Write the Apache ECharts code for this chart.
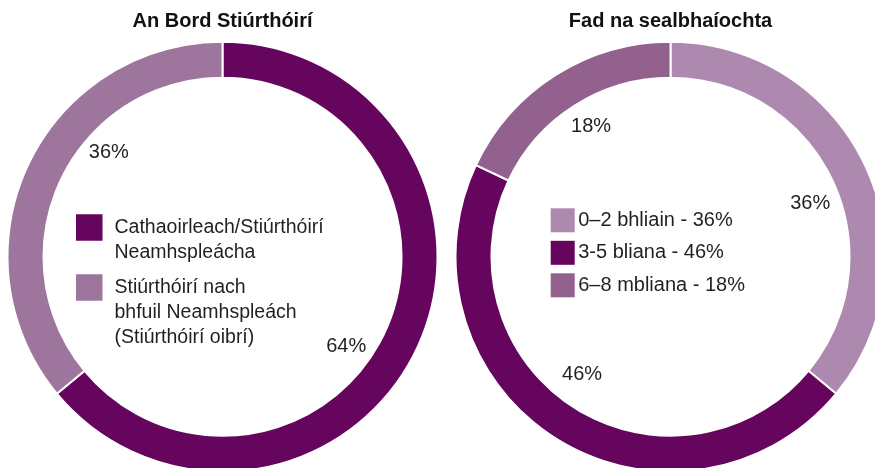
<!DOCTYPE html>
<html><head><meta charset="utf-8">
<script src="https://cdn.jsdelivr.net/npm/echarts@6/dist/echarts.min.js"></script>
<style>html,body{margin:0;padding:0;background:#fff}#c{width:875px;height:468px}</style>
</head><body><div id="c"></div>
<script>
// ---- data ----
const titles = ['An Bord Stiúrthóirí', 'Fad na sealbhaíochta'];
const leftNames = ['Cathaoirleach/Stiúrthóirí Neamhspleácha', 'Stiúrthóirí nach bhfuil Neamhspleách (Stiúrthóirí oibrí)'];
const leftLegendLines = [['Cathaoirleach/Stiúrthóirí', 'Neamhspleácha'], ['Stiúrthóirí nach', 'bhfuil Neamhspleách', '(Stiúrthóirí oibrí)']];
const leftValues = [64, 36];
const rightNames = ['0–2 bhliain', '3-5 bliana', '6–8 mbliana'];
const rightValues = [36, 46, 18];

// ---- style ----
const leftColors = ['#65055d', '#9e759d'];
const rightColors = ['#ad89b0', '#65055d', '#92618e'];
const FONT = "'Liberation Sans', Arial, Helvetica, sans-serif";
const TEXT = '#231f20';
const RING = [179, 215];
const LABEL_RING = [140, 154];
const leftCenter = [222.5, 256.7];
const rightCenter = [670.5, 256.7];
const leftLabelOffsets = [[-12, 26], [22, -40]];
const rightLabelOffsets = [[4, 11], [-8, -9], [1, -4]];

function ringSeries(names, values, colors, center) {
  return {
    type: 'pie', center: center, radius: RING, startAngle: 90, clockwise: true,
    silent: true, animation: false,
    label: { show: false }, labelLine: { show: false },
    itemStyle: { borderColor: '#fff', borderWidth: 2 },
    emphasis: { disabled: true },
    data: names.map((n, i) => ({ name: n, value: values[i], itemStyle: { color: colors[i] } }))
  };
}
function labelSeries(names, values, offsets, center) {
  return {
    type: 'pie', center: center, radius: LABEL_RING, startAngle: 90, clockwise: true,
    silent: true, animation: false,
    itemStyle: { color: 'rgba(0,0,0,0)', borderWidth: 0 },
    label: { show: true, position: 'inside', rotate: 0, formatter: '{c}%', color: TEXT, fontFamily: FONT, fontSize: 20 },
    labelLine: { show: false },
    emphasis: { disabled: true },
    data: names.map((n, i) => ({ name: n, value: values[i], label: { offset: offsets[i] } }))
  };
}
// blank leading lines keep the first text line level with the square
function leftLegendText(n) {
  const lines = leftLegendLines[leftNames.indexOf(n)];
  const pad = new Array(lines.length - 1).fill('');
  return pad.concat(lines).join('\n');
}

const chart = echarts.init(document.getElementById('c'), null, { renderer: 'canvas' });
chart.setOption({
  backgroundColor: '#fff',
  animation: false,
  title: titles.map((t, i) => ({
    text: t, left: i === 0 ? leftCenter[0] : rightCenter[0], top: 11.5, padding: 0, textAlign: 'center',
    textStyle: { fontFamily: FONT, fontSize: 20, fontWeight: 'bold', color: '#111' }
  })),
  legend: [
    {
      left: 76, top: 190, padding: 0, orient: 'vertical', icon: 'rect', itemWidth: 26.5, itemHeight: 26.5,
      selectedMode: false,
      data: [{ name: leftNames[0], itemStyle: { color: leftColors[0], borderWidth: 0 } }],
      formatter: leftLegendText,
      textStyle: { color: TEXT, fontFamily: FONT, fontSize: 19.5, lineHeight: 25, padding: [0, 0, 0, 7] }
    },
    {
      left: 76, top: 225, padding: 0, orient: 'vertical', icon: 'rect', itemWidth: 26.5, itemHeight: 26.5,
      selectedMode: false,
      data: [{ name: leftNames[1], itemStyle: { color: leftColors[1], borderWidth: 0 } }],
      formatter: leftLegendText,
      textStyle: { color: TEXT, fontFamily: FONT, fontSize: 19.5, lineHeight: 25, padding: [0, 0, 0, 7] }
    },
    {
      left: 550.7, top: 208.3, padding: 0, orient: 'vertical', icon: 'rect', itemWidth: 24, itemHeight: 24,
      itemGap: 8.5, selectedMode: false,
      data: rightNames.map((n, i) => ({ name: n, itemStyle: { color: rightColors[i], borderWidth: 0 } })),
      formatter: (n) => n + ' - ' + rightValues[rightNames.indexOf(n)] + '%',
      textStyle: { color: TEXT, fontFamily: FONT, fontSize: 20, lineHeight: 22, padding: [0, 0, 0, -1.5] }
    }
  ],
  series: [
    ringSeries(leftNames, leftValues, leftColors, leftCenter),
    ringSeries(rightNames, rightValues, rightColors, rightCenter),
    labelSeries(leftNames, leftValues, leftLabelOffsets, leftCenter),
    labelSeries(rightNames, rightValues, rightLabelOffsets, rightCenter)
  ]
});
</script>
</body></html>
